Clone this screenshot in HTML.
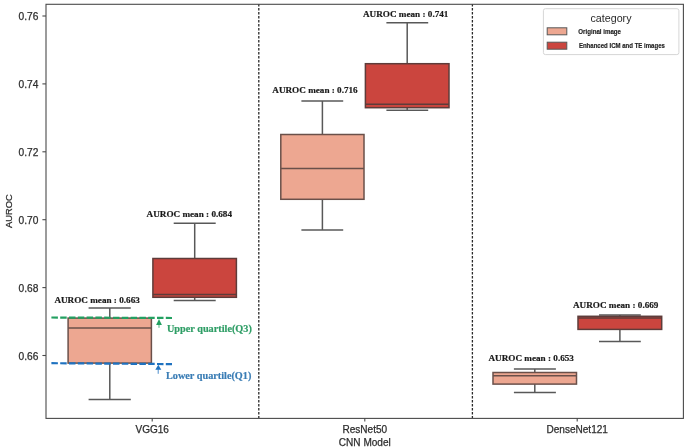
<!DOCTYPE html>
<html><head><meta charset="utf-8"><style>
html,body{margin:0;padding:0;background:#fff;width:685px;height:448px;overflow:hidden}
svg{display:block;will-change:transform}
.s{font-family:"Liberation Sans",sans-serif;stroke:#2e2e2e;stroke-width:0.25px}
.r{font-family:"Liberation Serif",serif;font-weight:bold;stroke:currentColor;stroke-width:0.2px}
.lg{font-family:"Liberation Sans",sans-serif;font-weight:bold;fill:#222;stroke:#222;stroke-width:0.15px}
</style></head><body>
<svg width="685" height="448" viewBox="0 0 685 448">
<rect width="685" height="448" fill="#fff"/>

<line x1="258.8" y1="4" x2="258.8" y2="418" stroke="#2a2a2a" stroke-width="1.3" stroke-dasharray="2.4 1.6"/>
<line x1="472.4" y1="4" x2="472.4" y2="418" stroke="#2a2a2a" stroke-width="1.3" stroke-dasharray="2.4 1.6"/>
<line x1="109.8" y1="308.0" x2="109.8" y2="318.1" stroke="#585858" stroke-width="1.5"/>
<line x1="109.8" y1="363.1" x2="109.8" y2="399.6" stroke="#585858" stroke-width="1.5"/>
<line x1="88.6" y1="308.0" x2="130.8" y2="308.0" stroke="#585858" stroke-width="1.5"/>
<line x1="88.6" y1="399.6" x2="130.8" y2="399.6" stroke="#585858" stroke-width="1.5"/>
<rect x="68.1" y="318.1" width="83.3" height="45.0" fill="#eda791" stroke="#6a504a" stroke-width="1.5"/>
<line x1="68.1" y1="328.1" x2="151.4" y2="328.1" stroke="#6a504a" stroke-width="1.5"/>
<line x1="194.7" y1="223.3" x2="194.7" y2="258.5" stroke="#585858" stroke-width="1.5"/>
<line x1="194.7" y1="297.3" x2="194.7" y2="300.6" stroke="#585858" stroke-width="1.5"/>
<line x1="173.7" y1="223.3" x2="215.7" y2="223.3" stroke="#585858" stroke-width="1.5"/>
<line x1="173.7" y1="300.6" x2="215.7" y2="300.6" stroke="#585858" stroke-width="1.5"/>
<rect x="152.9" y="258.5" width="83.5" height="38.8" fill="#cb453e" stroke="#5e3c3a" stroke-width="1.5"/>
<line x1="152.9" y1="294.4" x2="236.4" y2="294.4" stroke="#5e3c3a" stroke-width="1.5"/>
<line x1="322.4" y1="101.0" x2="322.4" y2="134.5" stroke="#585858" stroke-width="1.5"/>
<line x1="322.4" y1="199.3" x2="322.4" y2="229.9" stroke="#585858" stroke-width="1.5"/>
<line x1="301.4" y1="101.0" x2="343.2" y2="101.0" stroke="#585858" stroke-width="1.5"/>
<line x1="301.4" y1="229.9" x2="343.2" y2="229.9" stroke="#585858" stroke-width="1.5"/>
<rect x="280.8" y="134.5" width="83.2" height="64.8" fill="#eda791" stroke="#6a504a" stroke-width="1.5"/>
<line x1="280.8" y1="168.6" x2="364.0" y2="168.6" stroke="#6a504a" stroke-width="1.5"/>
<line x1="407.2" y1="22.8" x2="407.2" y2="63.7" stroke="#585858" stroke-width="1.5"/>
<line x1="407.2" y1="107.7" x2="407.2" y2="110.3" stroke="#585858" stroke-width="1.5"/>
<line x1="386.4" y1="22.8" x2="428.2" y2="22.8" stroke="#585858" stroke-width="1.5"/>
<line x1="386.4" y1="110.3" x2="428.2" y2="110.3" stroke="#585858" stroke-width="1.5"/>
<rect x="365.4" y="63.7" width="83.6" height="44.0" fill="#cb453e" stroke="#5e3c3a" stroke-width="1.5"/>
<line x1="365.4" y1="104.2" x2="449.0" y2="104.2" stroke="#5e3c3a" stroke-width="1.5"/>
<line x1="534.8" y1="368.9" x2="534.8" y2="372.5" stroke="#585858" stroke-width="1.5"/>
<line x1="534.8" y1="384.1" x2="534.8" y2="392.5" stroke="#585858" stroke-width="1.5"/>
<line x1="513.9" y1="368.9" x2="555.9" y2="368.9" stroke="#585858" stroke-width="1.5"/>
<line x1="513.9" y1="392.5" x2="555.9" y2="392.5" stroke="#585858" stroke-width="1.5"/>
<rect x="493.0" y="372.5" width="83.5" height="11.6" fill="#eda791" stroke="#6a504a" stroke-width="1.5"/>
<line x1="493.0" y1="375.7" x2="576.5" y2="375.7" stroke="#6a504a" stroke-width="1.5"/>
<line x1="619.9" y1="315.0" x2="619.9" y2="316.3" stroke="#585858" stroke-width="1.5"/>
<line x1="619.9" y1="329.4" x2="619.9" y2="341.5" stroke="#585858" stroke-width="1.5"/>
<line x1="599.0" y1="315.0" x2="640.8" y2="315.0" stroke="#585858" stroke-width="1.5"/>
<line x1="599.0" y1="341.5" x2="640.8" y2="341.5" stroke="#585858" stroke-width="1.5"/>
<rect x="578.0" y="316.3" width="83.7" height="13.1" fill="#cb453e" stroke="#5e3c3a" stroke-width="1.5"/>
<line x1="578.0" y1="317.9" x2="661.7" y2="317.9" stroke="#5e3c3a" stroke-width="1.5"/>
<text class="r" x="54.4" y="302.5" font-size="9.15" fill="#1a1a1a" color="#1a1a1a" textLength="85.4" lengthAdjust="spacingAndGlyphs">AUROC mean : 0.663</text>
<text class="r" x="146.6" y="217.4" font-size="9.15" fill="#1a1a1a" color="#1a1a1a" textLength="85.4" lengthAdjust="spacingAndGlyphs">AUROC mean : 0.684</text>
<text class="r" x="272.3" y="92.7" font-size="9.15" fill="#1a1a1a" color="#1a1a1a" textLength="85.4" lengthAdjust="spacingAndGlyphs">AUROC mean : 0.716</text>
<text class="r" x="363.0" y="17.4" font-size="9.15" fill="#1a1a1a" color="#1a1a1a" textLength="85.4" lengthAdjust="spacingAndGlyphs">AUROC mean : 0.741</text>
<text class="r" x="488.5" y="360.8" font-size="9.15" fill="#1a1a1a" color="#1a1a1a" textLength="85.4" lengthAdjust="spacingAndGlyphs">AUROC mean : 0.653</text>
<text class="r" x="573.0" y="308.1" font-size="9.15" fill="#1a1a1a" color="#1a1a1a" textLength="85.4" lengthAdjust="spacingAndGlyphs">AUROC mean : 0.669</text>
<line x1="51.4" y1="317.5" x2="172" y2="318.0" stroke="#23a061" stroke-width="2.2" stroke-dasharray="6.5 2.3"/>
<line x1="51.4" y1="363.2" x2="172" y2="364.1" stroke="#1f72c0" stroke-width="2.2" stroke-dasharray="6.5 2.3"/>
<path d="M159.0 319.1 L161.9 324.9 L156.1 324.9 Z" fill="#23a061"/><line x1="159.0" y1="324" x2="159.0" y2="327.8" stroke="#23a061" stroke-width="1.0" stroke-opacity="0.8"/>
<path d="M158.3 364.8 L161.3 369.8 L155.3 369.8 Z" fill="#1f72c0"/><line x1="158.2" y1="369" x2="158.2" y2="373.8" stroke="#1f72c0" stroke-width="1.0" stroke-opacity="0.8"/>
<text class="r" x="166.9" y="331.5" font-size="10.2" fill="#2f9e66" color="#2f9e66" textLength="85" lengthAdjust="spacingAndGlyphs">Upper quartile(Q3)</text>
<text class="r" x="166" y="378.9" font-size="10.2" fill="#3a7db5" color="#3a7db5" textLength="85.3" lengthAdjust="spacingAndGlyphs">Lower quartile(Q1)</text>
<rect x="46" y="4.3" width="637.4" height="414.1" fill="none" stroke="#4a4a4a" stroke-width="1.1"/>
<line x1="42.4" y1="16.0" x2="46" y2="16.0" stroke="#4a4a4a" stroke-width="1.1"/>
<text class="s" x="38.4" y="20.1" font-size="10.2" fill="#2e2e2e" text-anchor="end">0.76</text>
<line x1="42.4" y1="83.9" x2="46" y2="83.9" stroke="#4a4a4a" stroke-width="1.1"/>
<text class="s" x="38.4" y="88.0" font-size="10.2" fill="#2e2e2e" text-anchor="end">0.74</text>
<line x1="42.4" y1="151.8" x2="46" y2="151.8" stroke="#4a4a4a" stroke-width="1.1"/>
<text class="s" x="38.4" y="155.9" font-size="10.2" fill="#2e2e2e" text-anchor="end">0.72</text>
<line x1="42.4" y1="219.7" x2="46" y2="219.7" stroke="#4a4a4a" stroke-width="1.1"/>
<text class="s" x="38.4" y="223.8" font-size="10.2" fill="#2e2e2e" text-anchor="end">0.70</text>
<line x1="42.4" y1="287.6" x2="46" y2="287.6" stroke="#4a4a4a" stroke-width="1.1"/>
<text class="s" x="38.4" y="291.7" font-size="10.2" fill="#2e2e2e" text-anchor="end">0.68</text>
<line x1="42.4" y1="355.5" x2="46" y2="355.5" stroke="#4a4a4a" stroke-width="1.1"/>
<text class="s" x="38.4" y="359.6" font-size="10.2" fill="#2e2e2e" text-anchor="end">0.66</text>
<line x1="152.2" y1="418" x2="152.2" y2="421.6" stroke="#4a4a4a" stroke-width="1.1"/>
<text class="s" x="152.2" y="432.9" font-size="10.05" fill="#2e2e2e" text-anchor="middle">VGG16</text>
<line x1="364.8" y1="418" x2="364.8" y2="421.6" stroke="#4a4a4a" stroke-width="1.1"/>
<text class="s" x="364.8" y="432.9" font-size="10.05" fill="#2e2e2e" text-anchor="middle">ResNet50</text>
<line x1="577.2" y1="418" x2="577.2" y2="421.6" stroke="#4a4a4a" stroke-width="1.1"/>
<text class="s" x="577.2" y="432.9" font-size="10.05" fill="#2e2e2e" text-anchor="middle">DenseNet121</text>
<text class="s" x="364.8" y="446.4" font-size="10.05" fill="#2e2e2e" text-anchor="middle">CNN Model</text>
<text class="s" transform="translate(11.9 211.2) rotate(-90)" x="0" y="0" font-size="9.3" fill="#2e2e2e" text-anchor="middle">AUROC</text>
<rect x="543.4" y="8.7" width="135.5" height="45.9" rx="2" ry="2" fill="#fff" fill-opacity="0.8" stroke="#d6d6d6" stroke-width="1"/>
<text x="611" y="22.2" font-size="10.7" fill="#2a2a2a" text-anchor="middle" font-family="Liberation Sans, sans-serif">category</text>
<rect x="547.2" y="27.8" width="19.6" height="7" fill="#eda791" stroke="#585858" stroke-width="1"/>
<rect x="547.2" y="42.2" width="19.6" height="7" fill="#cb453e" stroke="#585858" stroke-width="1"/>
<text class="lg" x="578.3" y="33.9" font-size="6.6" textLength="42.7" lengthAdjust="spacingAndGlyphs">Original image</text>
<text class="lg" x="578.9" y="48" font-size="6.6" textLength="86" lengthAdjust="spacingAndGlyphs">Enhanced ICM and TE images</text>
</svg>
</body></html>
